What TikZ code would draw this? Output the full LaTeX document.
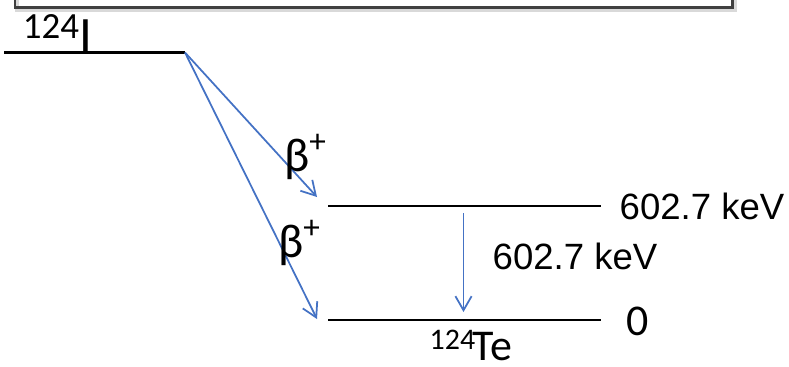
\documentclass[tikz,border=0pt]{standalone}
\usepackage{fontspec}
\setmainfont{Carlito}
\newfontfamily\arialfont{Liberation Sans}
\usetikzlibrary{arrows.meta}
\definecolor{officeblue}{RGB}{68,114,196}
\begin{document}
\begin{tikzpicture}[x=0.01cm, y=-0.01cm,
  lvl/.style={line width=0.6pt},
  decay/.style={officeblue, line width=0.5pt, -{Straight Barb[length=4pt,width=4.6pt]}},
  keV/.style={font=\arialfont\fontsize{10.4}{12}\selectfont, anchor=west, inner sep=0pt},
  beta/.style={font=\fontsize{13.5}{15}\selectfont, inner sep=0pt}]
\useasboundingbox (0,0) rectangle (789,366);
\clip (0,0) rectangle (789,366);
% Rahmen oben (abgeschnitten)
\draw[line width=1.2pt, black!15] (17,-10) -- (17,10) -- (735,10) -- (735,-10);
\draw[line width=0.7pt, black!75] (15,-10) -- (15,7.5) -- (732.5,7.5) -- (732.5,-10);
% Mutterniveau 124I
\draw[line width=0.85pt] (4,52.5) -- (185,52.5);
\coordinate (top) at (185,52.5);
\node[font=\fontsize{10.5}{12}\selectfont, inner sep=0pt] (mass) at (51,27) {124};
\node[font=\fontsize{14.5}{16}\selectfont, anchor=base, inner sep=0pt] (elem) at (85.5,52.5) {I};
% Tochterniveaus 124Te
\draw[lvl] (328,206) -- (601,206);
\draw[lvl] (328,320) -- (601,320);
\coordinate (up) at (317,197);
\coordinate (gs) at (317,319);
\coordinate (gtop) at (463.5,213);
\coordinate (gbot) at (463.5,312);
% Übergänge
\draw[decay] (top) -- (up);
\draw[decay] (top) -- (gs);
\draw[decay] (gtop) -- (gbot);
% Beschriftungen
\node[beta] (b1) at (306,157) {β\textsuperscript{+}};
\node[beta] (b2) at (300,243) {β\textsuperscript{+}};
\node[keV] (e1) at (619,206) {602.7 keV};
\node[keV] (eg) at (492,256.5) {602.7 keV};
\node[font=\fontsize{12.5}{14}\selectfont, inner sep=0pt] (e0) at (637.5,321) {0};
\node[font=\fontsize{8.5}{9}\selectfont, anchor=base west, inner sep=0pt] (temass) at (429,349) {124};
\node[font=\fontsize{12.5}{14}\selectfont, anchor=base west, inner sep=0pt] (te) at (472,360) {Te};
\end{tikzpicture}
\end{document}
